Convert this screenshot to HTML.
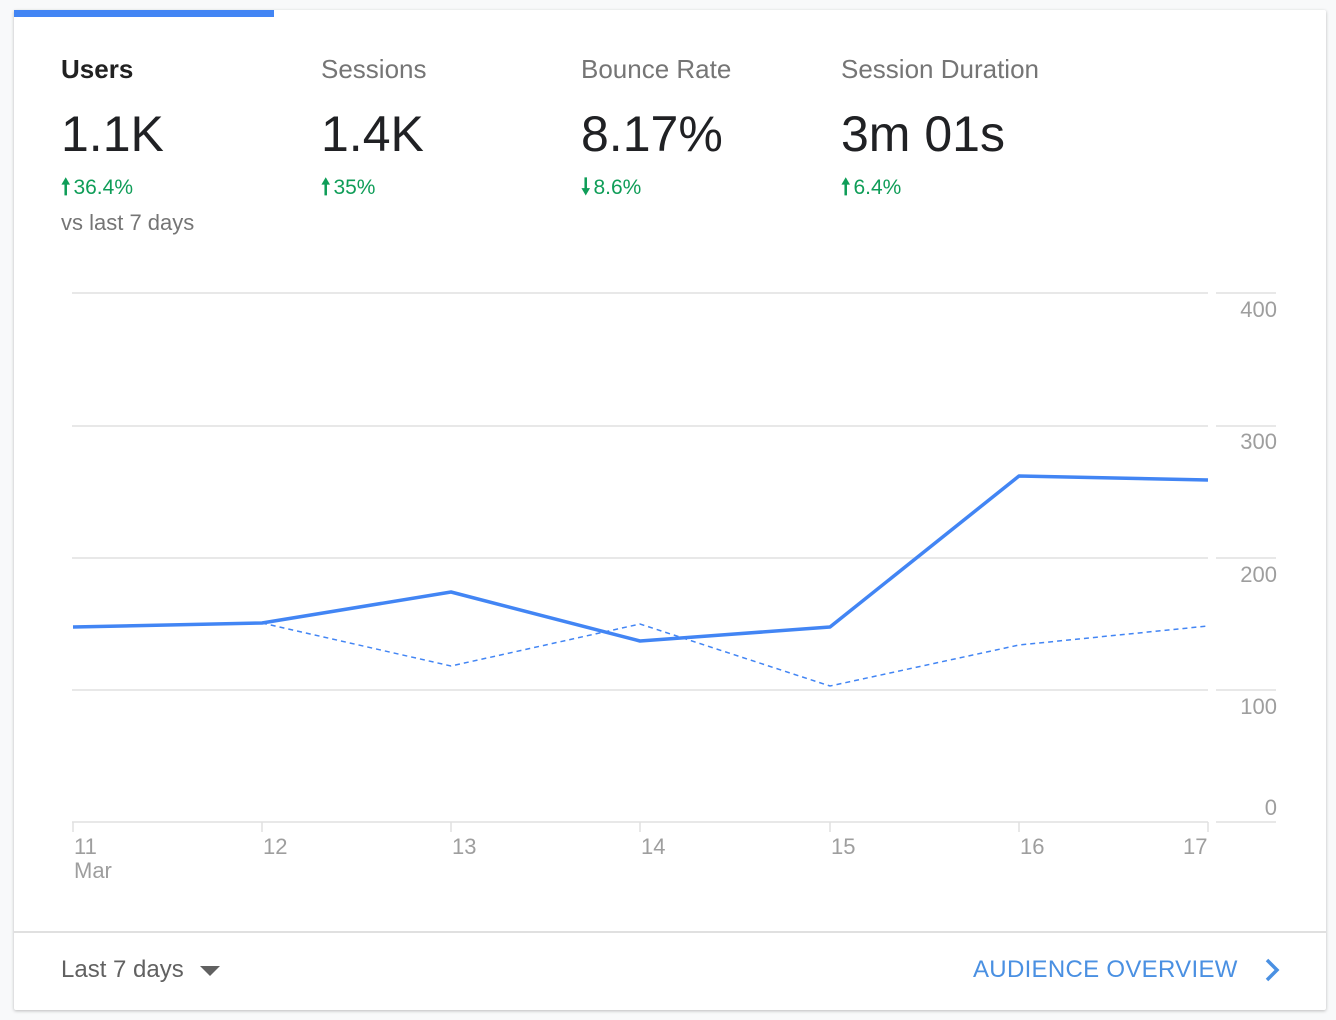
<!DOCTYPE html>
<html><head><style>
body{margin:0;background:#f8f9fa;font-family:"Liberation Sans",Roboto,sans-serif;}
.card{position:absolute;left:14px;top:10px;width:1312px;height:1000px;background:#fff;box-shadow:0 1px 3px rgba(0,0,0,.25);border-radius:2px;}
.bar{position:absolute;left:0;top:0;width:260px;height:7px;background:#4285f4;}
.m{position:absolute;top:44px;}
.t{font-size:26px;color:#757575;}
.v{font-size:50px;color:#202124;margin-top:19px;line-height:60px;}
.d{font-size:21px;color:#0f9d58;margin-top:6px;}
.d b{font-size:22px;display:inline-block;margin-right:3px;}
.s{font-size:22px;color:#757575;margin-top:2px;}
</style></head><body>
<div class="card">
<div class="bar"></div>
<div class="m" style="left:47px"><div class="t" style="color:#212121;font-weight:bold">Users</div><div class="v">1.1K</div><div class="d"><b>🠕</b>36.4%</div><div class="s">vs last 7 days</div></div>
<div class="m" style="left:307px"><div class="t">Sessions</div><div class="v">1.4K</div><div class="d"><b>🠕</b>35%</div></div>
<div class="m" style="left:567px"><div class="t">Bounce Rate</div><div class="v">8.17%</div><div class="d"><b>🠗</b>8.6%</div></div>
<div class="m" style="left:827px"><div class="t">Session Duration</div><div class="v">3m 01s</div><div class="d"><b>🠕</b>6.4%</div></div>
<div style="position:absolute;left:0;top:921px;width:1312px;height:2px;background:#e0e0e0"></div>
<div style="position:absolute;left:47px;top:946px;font-size:24px;color:#616161">Last 7 days <span style="display:inline-block;width:0;height:0;border-left:10px solid transparent;border-right:10px solid transparent;border-top:10px solid #616161;vertical-align:middle;margin-left:10px"></span></div>
<div style="position:absolute;left:959px;top:946px;font-size:24px;color:#4a90e2;letter-spacing:0.3px">AUDIENCE OVERVIEW</div>
</div>
<svg width="1336" height="1020" style="position:absolute;left:0;top:0" font-family="Liberation Sans,sans-serif">
<g stroke="#e0e0e0" stroke-width="1.5">
<line x1="72" y1="293" x2="1208" y2="293"/><line x1="72" y1="426" x2="1208" y2="426"/><line x1="72" y1="558" x2="1208" y2="558"/><line x1="72" y1="690" x2="1208" y2="690"/><line x1="72" y1="822" x2="1208" y2="822"/>
<line x1="1216" y1="293" x2="1276" y2="293"/><line x1="1216" y1="426" x2="1276" y2="426"/><line x1="1216" y1="558" x2="1276" y2="558"/><line x1="1216" y1="690" x2="1276" y2="690"/><line x1="1216" y1="822" x2="1276" y2="822"/>
<line x1="73" y1="822" x2="73" y2="832"/><line x1="262" y1="822" x2="262" y2="832"/><line x1="451" y1="822" x2="451" y2="832"/><line x1="640" y1="822" x2="640" y2="832"/><line x1="830" y1="822" x2="830" y2="832"/><line x1="1019" y1="822" x2="1019" y2="832"/><line x1="1208" y1="822" x2="1208" y2="832"/>
</g>
<g fill="#9e9e9e" font-size="22" text-anchor="end">
<text x="1277" y="317">400</text><text x="1277" y="449">300</text><text x="1277" y="582">200</text><text x="1277" y="714">100</text><text x="1277" y="815">0</text>
</g>
<g fill="#9e9e9e" font-size="22">
<text x="74" y="854">11</text><text x="74" y="878">Mar</text><text x="263" y="854">12</text><text x="452" y="854">13</text><text x="641" y="854">14</text><text x="831" y="854">15</text><text x="1020" y="854">16</text><text x="1183" y="854">17</text>
</g>
<polyline fill="none" stroke="#4285f4" stroke-width="1.5" stroke-dasharray="5,4" points="73,627 262,623 451,666 640,624 830,686 1019,645 1208,626"/>
<polyline fill="none" stroke="#4285f4" stroke-width="3.5" stroke-linejoin="round" points="73,627 262,623 451,592 640,641 830,627 1019,476 1208,480"/>
<polyline fill="none" stroke="#4a90e2" stroke-width="3.5" points="1267,960 1277,970 1267,980"/>
</svg>
</body></html>
